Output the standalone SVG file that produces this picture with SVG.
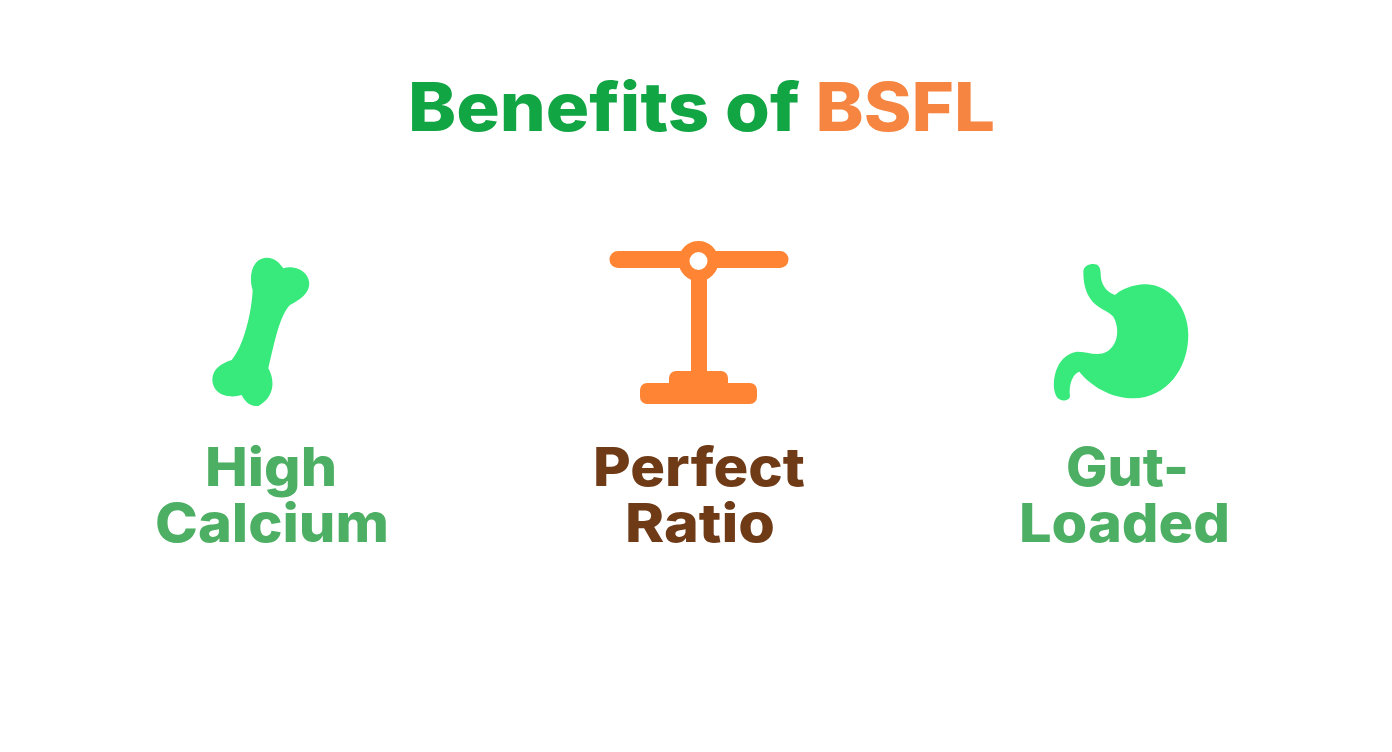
<svg xmlns="http://www.w3.org/2000/svg" width="1392" height="752" viewBox="0 0 1392 752">
<style>
text{font-family:Inter,"Open Sans","Liberation Sans",sans-serif;font-weight:800;text-anchor:start}
.t{font-size:67px}
.l{font-size:54px}
.g{fill:#4caf63}
.b{fill:#6f3a16}
.ic{fill:#38e97c}
.or{fill:#ff8534}
</style>
<rect width="1392" height="752" fill="#ffffff"/>
<g id="title"><text class="t" x="408" y="131" textLength="587" lengthAdjust="spacingAndGlyphs"><tspan fill="#12a544">Benefits of </tspan><tspan fill="#f58540">BSFL</tspan></text></g>
<g id="high-calcium">
<path class="ic" transform="translate(190 240) scale(.3333)" d="M188,150 C175,110 185,55 230,53 C255,53 270,70 280,85 C310,75 355,90 358,130 C358,160 330,180 300,195 C270,225 255,300 235,385 C255,420 255,470 205,498 C180,500 165,485 155,465 C125,475 70,470 67,420 C67,385 95,370 125,360 C160,320 185,220 188,150 Z"/>
<text class="l g" x="205" y="486" textLength="132" lengthAdjust="spacingAndGlyphs">High</text>
<text class="l g" x="155" y="542" textLength="234" lengthAdjust="spacingAndGlyphs">Calcium</text>
</g>
<g id="perfect-ratio">
<rect class="or" x="609.5" y="251" width="179" height="17" rx="8.5"/>
<rect class="or" x="691" y="270" width="16" height="112"/>
<rect class="or" x="669" y="371" width="59" height="26" rx="7"/>
<rect class="or" x="640" y="383" width="117" height="21" rx="7"/>
<circle cx="698.5" cy="261" r="14.5" fill="#fff" stroke="#ff8534" stroke-width="11"/>
<text class="l b" x="593" y="486" textLength="212" lengthAdjust="spacingAndGlyphs">Perfect</text>
<text class="l b" x="625" y="542" textLength="150" lengthAdjust="spacingAndGlyphs">Ratio</text>
</g>
<g id="gut-loaded">
<path class="ic" transform="translate(1040 255) scale(.3333)" d="M130,50 C130,35 145,27 160,27 C175,27 182,37 182,55 C182,85 195,110 225,120 C255,95 290,88 320,88 C390,90 445,160 445,240 C445,340 380,430 280,430 C210,430 150,390 118,350 C100,355 85,385 90,425 C85,440 60,440 50,425 C30,390 45,300 110,290 C140,290 175,305 200,290 C235,270 240,220 220,185 C200,165 170,160 150,130 C135,105 130,80 130,50 Z"/>
<text class="l g" x="1066" y="486" textLength="123" lengthAdjust="spacingAndGlyphs">Gut-</text>
<text class="l g" x="1019" y="542" textLength="211" lengthAdjust="spacingAndGlyphs">Loaded</text>
</g>
<g id="connectors"></g>
</svg>
